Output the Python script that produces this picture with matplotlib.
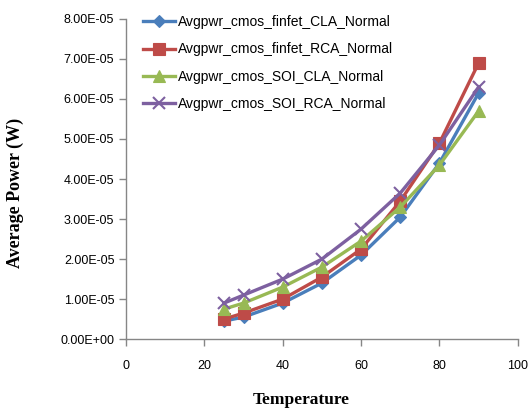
import matplotlib
matplotlib.use("Agg")
import matplotlib.pyplot as plt
from matplotlib.ticker import FuncFormatter

temperature = [25, 30, 40, 50, 60, 70, 80, 90]
finfet_cla = [4.5e-6, 5.5e-6, 9.0e-6, 1.40e-5, 2.10e-5, 3.05e-5, 4.40e-5, 6.15e-5]
finfet_rca = [5.0e-6, 6.5e-6, 1.00e-5, 1.55e-5, 2.25e-5, 3.45e-5, 4.90e-5, 6.90e-5]
soi_cla = [7.5e-6, 9.0e-6, 1.30e-5, 1.80e-5, 2.45e-5, 3.30e-5, 4.35e-5, 5.70e-5]
soi_rca = [9.0e-6, 1.10e-5, 1.50e-5, 2.00e-5, 2.75e-5, 3.65e-5, 4.85e-5, 6.30e-5]

series = [
    ("Avgpwr_cmos_finfet_CLA_Normal", finfet_cla, "#4A7EBB", "D", 6),
    ("Avgpwr_cmos_finfet_RCA_Normal", finfet_rca, "#BE4B48", "s", 8),
    ("Avgpwr_cmos_SOI_CLA_Normal", soi_cla, "#98B954", "^", 9),
    ("Avgpwr_cmos_SOI_RCA_Normal", soi_rca, "#7D60A0", "x", 9),
]

fig = plt.figure(figsize=(5.3, 4.12), dpi=100)
ax = fig.add_axes([0.238, 0.177, 0.739, 0.777])

for label, vals, color, marker, ms in series:
    ax.plot(temperature, vals, color=color, linewidth=2.4, marker=marker,
            markersize=ms, markeredgewidth=1.5 if marker == "x" else 0.8,
            markeredgecolor=color, label=label)

ax.set_xlim(0, 100)
ax.set_ylim(0, 8e-5)
ax.set_xticks(range(0, 101, 20))
ax.set_yticks([i * 1e-5 for i in range(9)])
ax.yaxis.set_major_formatter(FuncFormatter(lambda v, p: f"{v:.2E}"))

for side in ["top", "right"]:
    ax.spines[side].set_visible(False)
for side in ["left", "bottom"]:
    ax.spines[side].set_color("#868686")
    ax.spines[side].set_linewidth(1.0)
ax.tick_params(axis="both", colors="#868686", length=5, width=1.0,
               labelsize=9, labelcolor="black")
ax.tick_params(axis="x", pad=10)
for t in ax.get_xticklabels() + ax.get_yticklabels():
    t.set_family("Liberation Sans")

ax.set_xlabel("Temperature", family="Liberation Serif", fontweight="bold",
              fontsize=12.5)
ax.xaxis.set_label_coords(0.446, -0.165)
ax.set_ylabel("Average Power (W)", family="Liberation Serif", fontweight="bold",
              fontsize=13)
ax.yaxis.set_label_coords(-0.262, 0.455)

ax.legend(loc="upper left", bbox_to_anchor=(0.03, 1.03), frameon=False,
          prop={"family": "Liberation Sans", "size": 10}, handlelength=2.3,
          handletextpad=0.15, labelspacing=0.97, borderaxespad=0)

fig.savefig("out.png", dpi=100)
